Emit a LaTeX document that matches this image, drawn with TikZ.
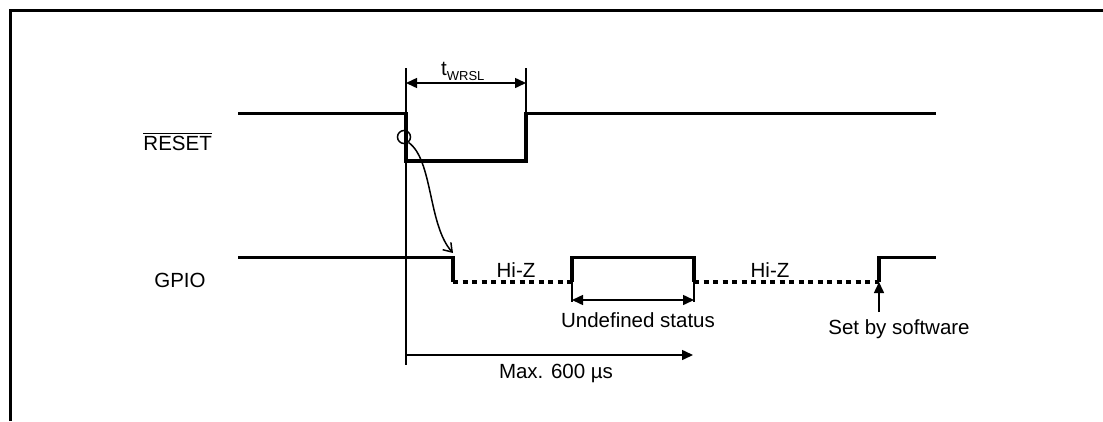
\documentclass[tikz,border=0pt]{standalone}
\usepackage{fontspec}
\setmainfont{Liberation Sans}
\usetikzlibrary{arrows.meta}
\tikzset{
  sig/.style={line width=3.2pt, line cap=butt, line join=miter},
  hiz/.style={line width=3.2pt, dash pattern=on 5pt off 4.5pt},
  thin/.style={line width=1.5pt},
  dim/.style={line width=1.5pt, {Triangle[length=11pt,width=10pt]}-{Triangle[length=11pt,width=10pt]}},
  sarr/.style={line width=1.5pt, -{Triangle[length=11pt,width=10pt]}},
  lbl/.style={inner sep=0pt, anchor=base, font=\fontsize{20.5}{24}\selectfont},
}
\begin{document}
\begin{tikzpicture}[x=1pt,y=-1pt]
\useasboundingbox (0,0) rectangle (1103,421);
% frame
\draw[line width=2.4pt] (10.5,421) -- (10.5,10.5) -- (1103,10.5);

% coordinates
\coordinate (r0) at (238,113.5);
\coordinate (rf) at (406,113.5);
\coordinate (rl) at (406,161);
\coordinate (rr) at (526,161);
\coordinate (rh) at (526,113.5);
\coordinate (r1) at (936,113.5);

\coordinate (g0) at (238,257.5);
\coordinate (gf) at (453,257.5);
\coordinate (gl) at (453,282);
\coordinate (u0) at (572,282);
\coordinate (u0h) at (572,257.5);
\coordinate (u1h) at (694,257.5);
\coordinate (u1) at (694,282);
\coordinate (s0) at (879,282);
\coordinate (s0h) at (879,257.5);
\coordinate (g1) at (936,257.5);

% RESET signal
\draw[sig] (r0) -- (rf) -- (rl) -- (rr) -- (rh) -- (r1);
% GPIO signal
\draw[sig] (g0) -- (gf) -- (gl);
\draw[hiz] (gl) -- (u0);
\draw[sig] (u0) -- (u0h) -- (u1h) -- (u1);
\draw[hiz] (u1) -- (s0);
\draw[sig] (s0) -- (s0h) -- (g1);

% reference lines
\coordinate (va) at (406,68);
\coordinate (vb) at (406,365);
\coordinate (vc) at (526,68);
\draw[thin] (va) -- (vb);
\draw[thin] (vc) -- (rh);
\coordinate (ua) at (572,302);
\coordinate (ub) at (694,302);
\draw[thin] (u0) -- (ua);
\draw[thin] (u1) -- (ub);

% t_WRSL dimension
\coordinate (ta) at (406,83);
\coordinate (tb) at (526,83);
\draw[dim] (ta) -- (tb);
\node[lbl, anchor=base west] (tw) at (441,75) {t\raisebox{-5.5pt}{\fontsize{13}{15}\selectfont WRSL}};

% circle and curved arrow
\node[draw, circle, line width=1.5pt, minimum size=13pt, inner sep=0pt] (c) at (404,137) {};
\coordinate (ce) at (453,253);
\draw[line width=1.5pt, -{Straight Barb[length=8pt,width=11pt]}] (c.-50) .. controls (433,160) and (428,225) .. (ce);

% Undefined status
\draw[dim] (ua |- 0,300) coordinate (da) -- (ub |- 0,300) coordinate (db);
\node[lbl] (und) at (638,327) {Undefined status};

% Set by software
\coordinate (sb) at (879,312);
\draw[sarr] (sb) -- (s0);
\node[lbl] (sbs) at (899,334) {Set by software};

% Max 600 us
\coordinate (ma) at (406,355);
\coordinate (mb) at (693,355);
\draw[sarr] (ma) -- (mb);
\node[lbl] (max) at (556,378) {Max. 600 µs};

% Hi-Z labels
\node[lbl] (hz1) at (516,277) {Hi-Z};
\node[lbl] (hz2) at (770,277) {Hi-Z};

% signal names
\node[lbl, anchor=base east] (reset) at (212,150) {RESET};
\draw[line width=1.5pt] ([yshift=2pt]reset.north west) -- ([yshift=2pt]reset.north east);
\node[lbl] (gpio) at (180,287) {GPIO};
\end{tikzpicture}
\end{document}
